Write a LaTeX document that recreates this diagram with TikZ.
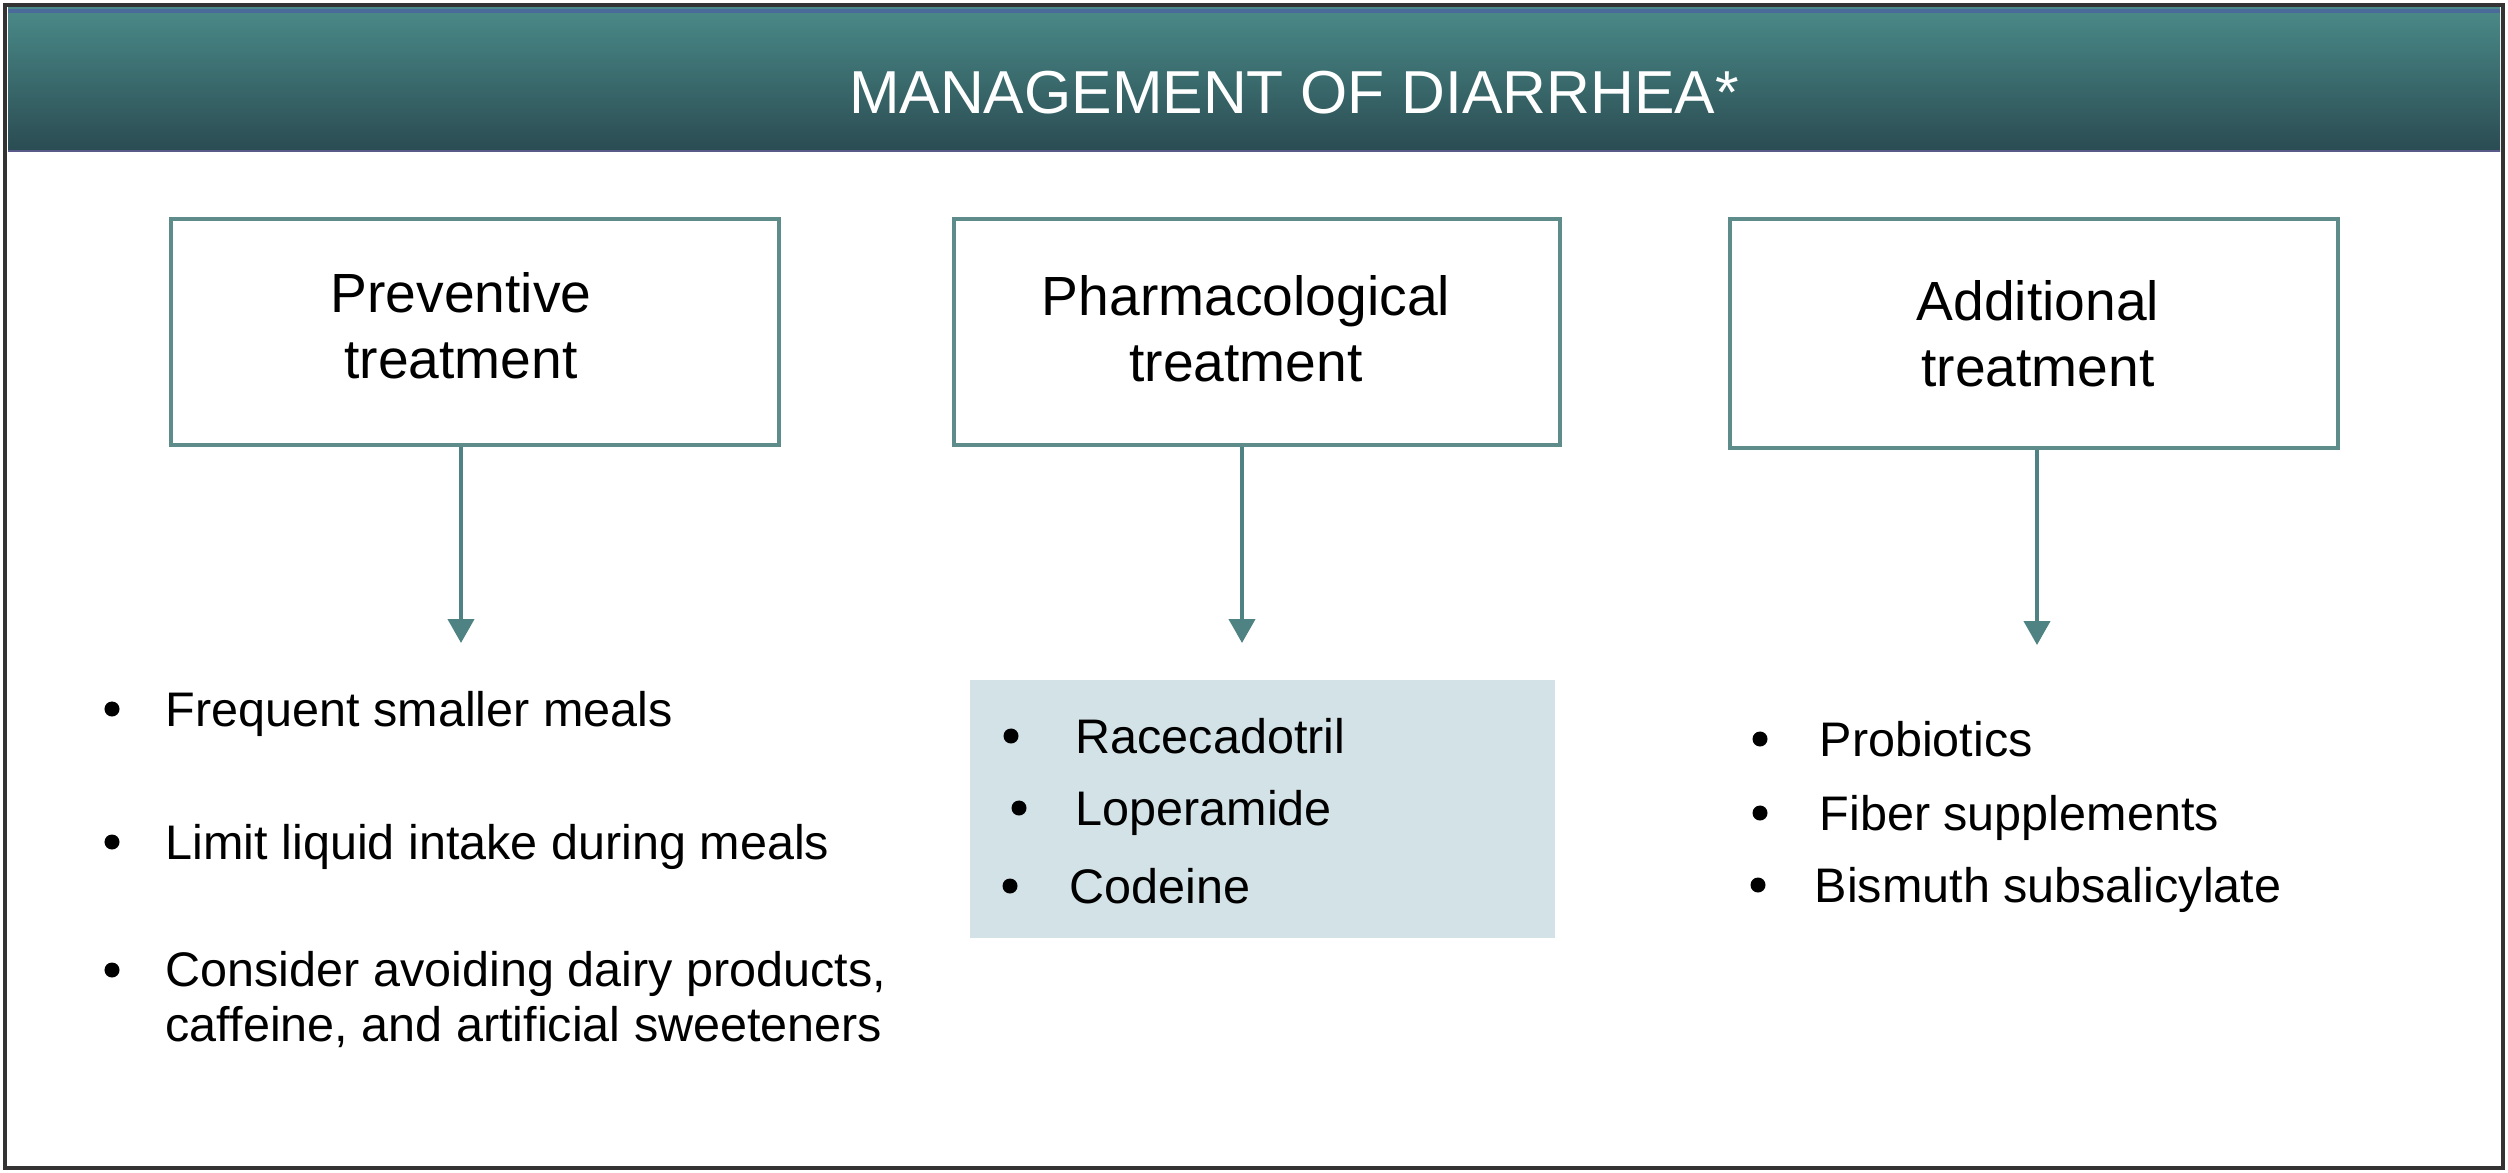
\documentclass[tikz,border=0pt]{standalone}
\usepackage{fontspec}
\setmainfont{Liberation Sans}
\usetikzlibrary{arrows.meta}
\definecolor{framec}{HTML}{333333}
\definecolor{hdtop}{HTML}{4A8A88}
\definecolor{hdbot}{HTML}{2A4B52}
\definecolor{hdline}{HTML}{4A6A9A}
\definecolor{hdlow}{HTML}{5A5A8A}
\definecolor{boxline}{HTML}{5E8C8A}
\definecolor{arrowc}{HTML}{4F8282}
\definecolor{shadec}{HTML}{D3E2E6}
\tikzset{
  catbox/.style={draw=boxline, line width=1.3pt, fill=white, inner sep=0pt},
  cattxt/.style={inner sep=0pt, align=center, font=\fontsize{15.7}{18.7}\selectfont},
  arr/.style={draw=arrowc, line width=1.1pt, -{Triangle[width=7.4pt,length=6.8pt]}},
  bul/.style={circle, fill=black, inner sep=0pt, minimum size=0.15cm},
  itemtxt/.style={inner sep=0pt, anchor=base west, align=left, font=\fontsize{13.8}{15.4}\selectfont},
}
\begin{document}
\begin{tikzpicture}[x=0.01cm,y=-0.01cm]
\useasboundingbox (0,0) rectangle (2508,1173);
% header
\fill[top color=hdtop, bottom color=hdbot] (8,8) rectangle (2500,152);
\draw[hdline, line width=1pt] (8,11) -- (2500,11);
\draw[hdlow, line width=0.6pt] (8,151) -- (2500,151);
\node (title) at (1294,93) [text=white, font=\fontsize{17.25}{20}\selectfont] {MANAGEMENT OF DIARRHEA*};
% category boxes
\node (b1) [catbox, minimum width=6.08cm, minimum height=2.26cm] at (475,332) {};
\node (b2) [catbox, minimum width=6.06cm, minimum height=2.26cm] at (1257,332) {};
\node (b3) [catbox, minimum width=6.08cm, minimum height=2.29cm] at (2034,333.5) {};
\node (l1) [cattxt] at (461,326) {Preventive\\treatment};
\node (l2) [cattxt] at (1246,329) {Pharmacological\\treatment};
\node (l3) [cattxt] at (2038,333.5) {Additional\\treatment};
% arrows
\coordinate (e1) at (461,643);
\coordinate (e2) at (1242,643);
\coordinate (e3) at (2037,645);
\draw[arr] (e1 |- b1.south) -- (e1);
\draw[arr] (e2 |- b2.south) -- (e2);
\draw[arr] (e3 |- b3.south) -- (e3);
% shaded box
\node (pharm) [fill=shadec, inner sep=0pt, minimum width=5.85cm, minimum height=2.58cm] at (1262.5,809) {};
% column 1
\node (d11) [bul] at (112,709) {};
\node (t11) [itemtxt] at (165,726) {Frequent smaller meals};
\node (d12) [bul] at (112,842) {};
\node (t12) [itemtxt] at (165,859) {Limit liquid intake during meals};
\node (d13) [bul] at (112,970) {};
\node (t13) [itemtxt] at (165,1041) {Consider avoiding dairy products,\\caffeine, and artificial sweeteners};
% column 2
\node (d21) [bul] at (1011,736) {};
\node (t21) [itemtxt] at (1075,753) {Racecadotril};
\node (d22) [bul] at (1019,808) {};
\node (t22) [itemtxt] at (1075,825) {Loperamide};
\node (d23) [bul] at (1010,886) {};
\node (t23) [itemtxt] at (1069,903) {Codeine};
% column 3
\node (d31) [bul] at (1760,739) {};
\node (t31) [itemtxt] at (1819,756) {Probiotics};
\node (d32) [bul] at (1760,813) {};
\node (t32) [itemtxt] at (1819,830) {Fiber supplements};
\node (d33) [bul] at (1758,885) {};
\node (t33) [itemtxt] at (1814,902) {Bismuth subsalicylate};
% outer frame
\draw[framec, line width=1.4pt] (5,5) rectangle (2503,1168);
\end{tikzpicture}
\end{document}
